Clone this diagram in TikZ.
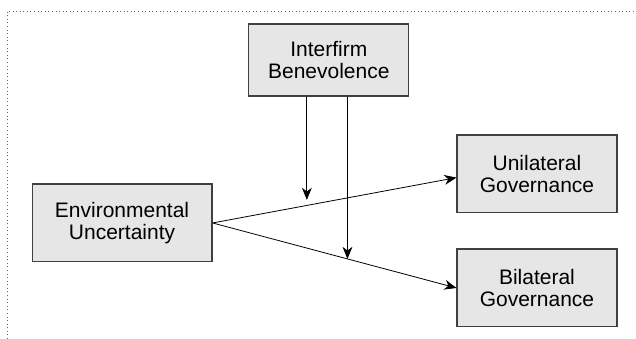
\documentclass[tikz,border=0pt]{standalone}
\usepackage{fontspec}
\setmainfont{Liberation Sans}
\usetikzlibrary{arrows.meta,positioning,calc}

\definecolor{boxfill}{HTML}{E6E6E6}
\definecolor{boxline}{HTML}{404040}

\begin{document}
\begin{tikzpicture}[
  factor/.style={rectangle, draw=boxline, fill=boxfill, line width=0.9pt, align=center,
    minimum width=4.23cm, minimum height=2.06cm, inner sep=2pt,
    font=\fontsize{15.8}{16.5}\selectfont},
  >={Stealth[length=3.2mm, width=2.6mm, inset=1mm]}, line width=0.6pt
]

% frame of the page
\useasboundingbox (0,0) rectangle (16.83,-8.97);
\draw[gray!80!black, dotted, line width=0.7pt] (0.185,-8.97) -- (0.185,-0.291) -- (16.83,-0.291);

% Moderator
\node[factor, minimum height=1.905cm] (ib) at (8.70,-1.59) {Interfirm\\Benevolence};

% Antecedent
\node[factor, minimum width=4.76cm] (env) at (3.23,-5.90) {Environmental\\Uncertainty};

% Outcomes
\node[factor] (uni) at (14.21,-4.60) {Unilateral\\Governance};
\node[factor] (bil) at (14.21,-7.62) {Bilateral\\Governance};

% Main effects
\draw[->] (env.east) -- ([yshift=-0.1cm]uni.west);
\draw[->] (env.east) -- (bil.west) coordinate[pos=0.553] (m2);

% Moderating effects
\coordinate (m1) at ($(ib.south)+(-0.58,-2.73)$);
\draw[->] (ib.south -| m1) -- (m1);
\draw[->] (ib.south -| m2) -- (m2);

\end{tikzpicture}
\end{document}
